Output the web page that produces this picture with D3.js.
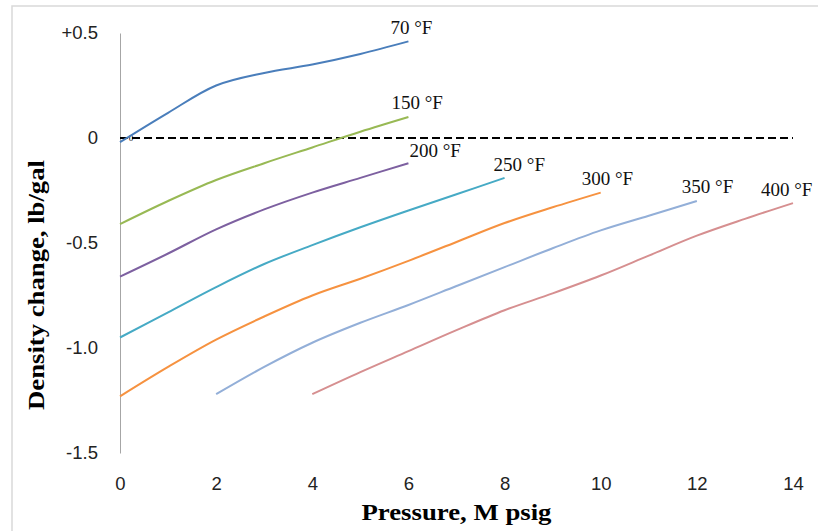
<!DOCTYPE html>
<html lang="en">
<head>
  <meta charset="UTF-8">
  <title>Density change vs pressure</title>
  <script src="https://d3js.org/d3.v7.min.js"></script>
  <style>
    body { margin: 0; background: #fff; }
    .tick text { font-family: "Liberation Sans", Arial, sans-serif; font-size: 18.5px; fill: #222; }
  </style>
</head>
<body>
  <div id="chart"></div>

  <script>
    // Series labels and colours (one per temperature curve)
    const seriesNames = ["70 °F", "150 °F", "200 °F", "250 °F", "300 °F", "350 °F", "400 °F"];
    const seriesColors = ["#4a7ebb", "#98b954", "#7d60a0", "#46aac5", "#f69240", "#93afd8", "#d68f90"];

    // Pressure (M psig) and density change (lb/gal)
    const p70 = [0, 1, 2, 3, 4, 5, 6];
    const d70 = [-0.02, 0.12, 0.25, 0.31, 0.35, 0.40, 0.46];
    const p150 = [0, 1, 2, 3, 4, 5, 6];
    const d150 = [-0.41, -0.30, -0.20, -0.12, -0.045, 0.03, 0.10];
    const p200 = [0, 1, 2, 3, 4, 5, 6];
    const d200 = [-0.66, -0.55, -0.435, -0.34, -0.26, -0.19, -0.12];
    const p250 = [0, 1, 2, 3, 4, 5, 6, 7, 8];
    const d250 = [-0.95, -0.83, -0.71, -0.60, -0.51, -0.425, -0.345, -0.268, -0.19];
    const p300 = [0, 1, 2, 3, 4, 5, 6, 7, 8, 9, 10];
    const d300 = [-1.23, -1.09, -0.96, -0.85, -0.75, -0.67, -0.585, -0.495, -0.405, -0.33, -0.26];
    const p350 = [2, 3, 4, 5, 6, 7, 8, 9, 10, 11, 12];
    const d350 = [-1.22, -1.09, -0.975, -0.88, -0.795, -0.705, -0.615, -0.525, -0.44, -0.37, -0.30];
    const p400 = [4, 5, 6, 7, 8, 9, 10, 11, 12, 13, 14];
    const d400 = [-1.22, -1.115, -1.015, -0.915, -0.82, -0.74, -0.655, -0.56, -0.465, -0.385, -0.31];

    const pressures = [p70, p150, p200, p250, p300, p350, p400];
    const densities = [d70, d150, d200, d250, d300, d350, d400];

    // Axis ticks
    const xTicks = [0, 2, 4, 6, 8, 10, 12, 14];
    const yTicks = [0.5, 0, -0.5, -1.0, -1.5];
    const yTickLabels = ["+0.5", "0", "-0.5", "-1.0", "-1.5"];

    // Label offsets (pixels) from the end of each curve
    const labelOffsets = [[-18, -7], [-17, -8], [1, -6], [-11, -7], [-19, -8], [-15, -8], [-32, -7]];

    const W = 818, H = 531;
    const margin = {top: 33, right: 25, bottom: 78, left: 120};

    const svg = d3.select("#chart").append("svg")
      .attr("width", W)
      .attr("height", H);

    // outer frame
    svg.append("rect")
      .attr("x", 12).attr("y", 6)
      .attr("width", 830).attr("height", 560)
      .style("fill", "none")
      .style("stroke", "#d9d9d9")
      .style("stroke-width", 1.5);

    const x = d3.scaleLinear().domain([0, 14]).range([margin.left, W - margin.right]);
    const y = d3.scaleLinear().domain([-1.5, 0.5]).range([H - margin.bottom, margin.top]);

    // y axis
    const yAxis = svg.append("g")
      .attr("transform", `translate(${margin.left},0)`)
      .call(d3.axisLeft(y).tickValues(yTicks).tickSize(0).tickPadding(22)
        .tickFormat((d, i) => yTickLabels[i]));
    yAxis.select(".domain").style("stroke", "#a6a6a6").style("stroke-width", 1);

    // x axis (labels only)
    const xAxis = svg.append("g")
      .attr("transform", `translate(0,${y(-1.5)})`)
      .call(d3.axisBottom(x).tickValues(xTicks).tickSize(0).tickPadding(24));
    xAxis.select(".domain").remove();

    // dashed zero line
    svg.append("line")
      .attr("x1", x(0)).attr("x2", x(14))
      .attr("y1", y(0)).attr("y2", y(0))
      .style("stroke", "#000")
      .style("stroke-width", 2)
      .style("stroke-dasharray", "8,4");

    // small "0" marker on the zero line
    svg.append("text")
      .attr("x", x(0.23)).attr("y", y(0))
      .attr("dy", "0.35em")
      .attr("text-anchor", "middle")
      .style("font-family", "Liberation Serif, serif")
      .style("font-size", "9px")
      .text("0");

    const line = d3.line()
      .x(d => x(d[0]))
      .y(d => y(d[1]))
      .curve(d3.curveCatmullRom.alpha(0.5));

    seriesNames.forEach((name, i) => {
      const pts = pressures[i].map((p, j) => [p, densities[i][j]]);
      svg.append("path")
        .datum(pts)
        .attr("d", line)
        .style("fill", "none")
        .style("stroke", seriesColors[i])
        .style("stroke-width", 2);

      const last = pts[pts.length - 1];
      svg.append("text")
        .attr("x", x(last[0]) + labelOffsets[i][0])
        .attr("y", y(last[1]) + labelOffsets[i][1])
        .style("font-family", "Liberation Serif, 'Times New Roman', serif")
        .style("font-size", "19px")
        .style("fill", "#111")
        .text(name);
    });

    // axis titles
    svg.append("text")
      .attr("x", 456.5).attr("y", 520)
      .attr("text-anchor", "middle")
      .attr("textLength", 190)
      .attr("lengthAdjust", "spacingAndGlyphs")
      .style("font-family", "Liberation Serif, 'Times New Roman', serif")
      .style("font-weight", "bold")
      .style("font-size", "24px")
      .text("Pressure, M psig");

    svg.append("text")
      .attr("transform", "translate(44,285) rotate(-90)")
      .attr("text-anchor", "middle")
      .attr("textLength", 250)
      .attr("lengthAdjust", "spacingAndGlyphs")
      .style("font-family", "Liberation Serif, 'Times New Roman', serif")
      .style("font-weight", "bold")
      .style("font-size", "24px")
      .text("Density change, lb/gal");
  </script>
</body>
</html>
